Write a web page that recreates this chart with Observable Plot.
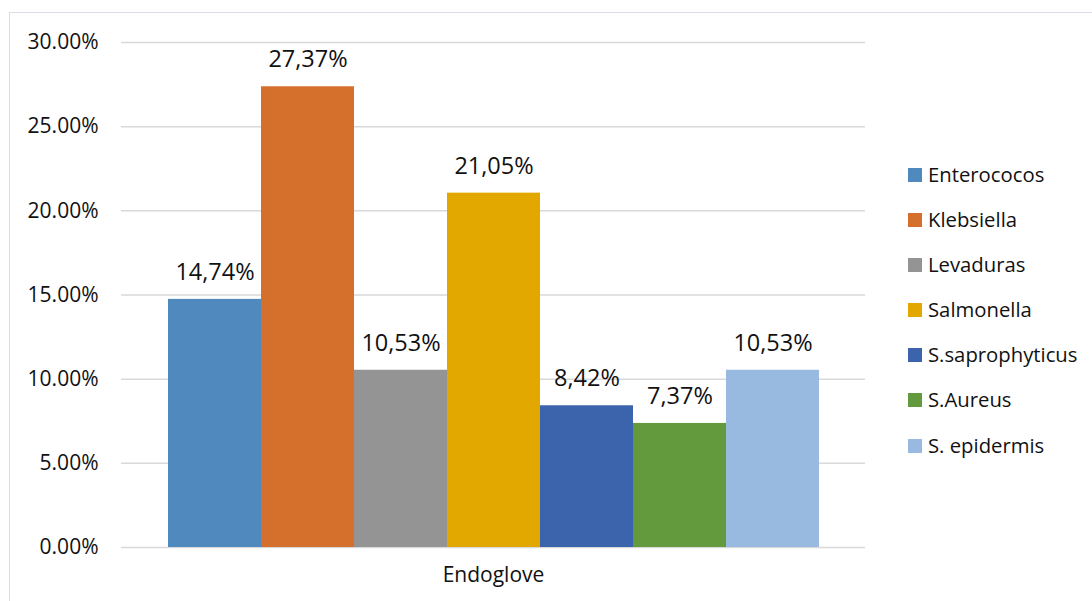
<!DOCTYPE html>
<html><head><meta charset="utf-8">
<script src="https://cdn.jsdelivr.net/npm/d3@7"></script>
<script src="https://cdn.jsdelivr.net/npm/@observablehq/plot@0.6"></script>
<style>
html,body{margin:0;padding:0;background:#fff;}
#wrap{position:relative;width:1092px;height:601px;overflow:hidden;font-family:"Open Sans","Noto Sans",sans-serif;}
#frame{position:absolute;left:9px;top:12px;width:1200px;height:700px;border:1.5px solid #d9dee6;box-sizing:border-box;}
#legend{position:absolute;left:908px;top:159.5px;font-size:20.3px;color:#111;}
.item{height:45.2px;display:flex;align-items:flex-start;white-space:nowrap;}
.sw{width:14px;height:14px;margin-top:8px;margin-right:6px;flex:none;}
svg{position:absolute;left:0;top:0;}
</style></head>
<body><div id="wrap"><div id="frame"></div><div id="legend"></div></div>
<script>
const categories = ["Endoglove"];
const series = ["Enterococos","Klebsiella","Levaduras","Salmonella","S.saprophyticus","S.Aureus","S. epidermis"];
const values = [0.1474, 0.2737, 0.1053, 0.2105, 0.0842, 0.0737, 0.1053];
const labels = ["14,74%","27,37%","10,53%","21,05%","8,42%","7,37%","10,53%"];
const colors = ["#4f89bd","#d46f2c","#949494","#e3a800","#3c64ad","#639a3e","#98b9e0"];
const yTicks = [0, 0.05, 0.10, 0.15, 0.20, 0.25, 0.30];

const data = series.map((s, i) => ({group: categories[0], name: s, value: values[i], label: labels[i]}));

const font = '"Open Sans","Noto Sans",sans-serif';
const chart = Plot.plot({
  width: 1092, height: 601,
  marginLeft: 121, marginRight: 227, marginTop: 42, marginBottom: 54,
  style: {fontFamily: font, fontSize: "20px", color: "#111", background: "transparent"},
  fx: {domain: categories, padding: 0, label: null},
  x: {domain: series, padding: 0, insetLeft: 46, insetRight: 45, axis: null},
  y: {domain: [0, 0.30], label: null},
  color: {domain: series, range: colors},
  marks: [
    Plot.gridY(yTicks, {stroke: "#d9d9d9", strokeOpacity: 1, strokeWidth: 1.5}),
    Plot.axisY(yTicks, {tickSize: 0, tickPadding: 23, tickFormat: d => (d*100).toFixed(2) + "%", fontSize: 21, label: null}),
    Plot.axisFx({anchor: "bottom", tickSize: 0, tickPadding: 20, fontSize: 21, label: null}),
    Plot.barY(data, {fx: "group", x: "name", y: "value", fill: "name"}),
    Plot.text(data, {fx: "group", x: "name", y: "value", text: "label", dy: -27, fontSize: 23.5, fill: "#111"})
  ]
});
document.getElementById("wrap").appendChild(chart);

const leg = document.getElementById("legend");
series.forEach((s, i) => {
  const d = document.createElement("div"); d.className = "item";
  const sw = document.createElement("div"); sw.className = "sw"; sw.style.background = colors[i];
  const t = document.createElement("span"); t.textContent = s;
  d.appendChild(sw); d.appendChild(t); leg.appendChild(d);
});
</script></body></html>
